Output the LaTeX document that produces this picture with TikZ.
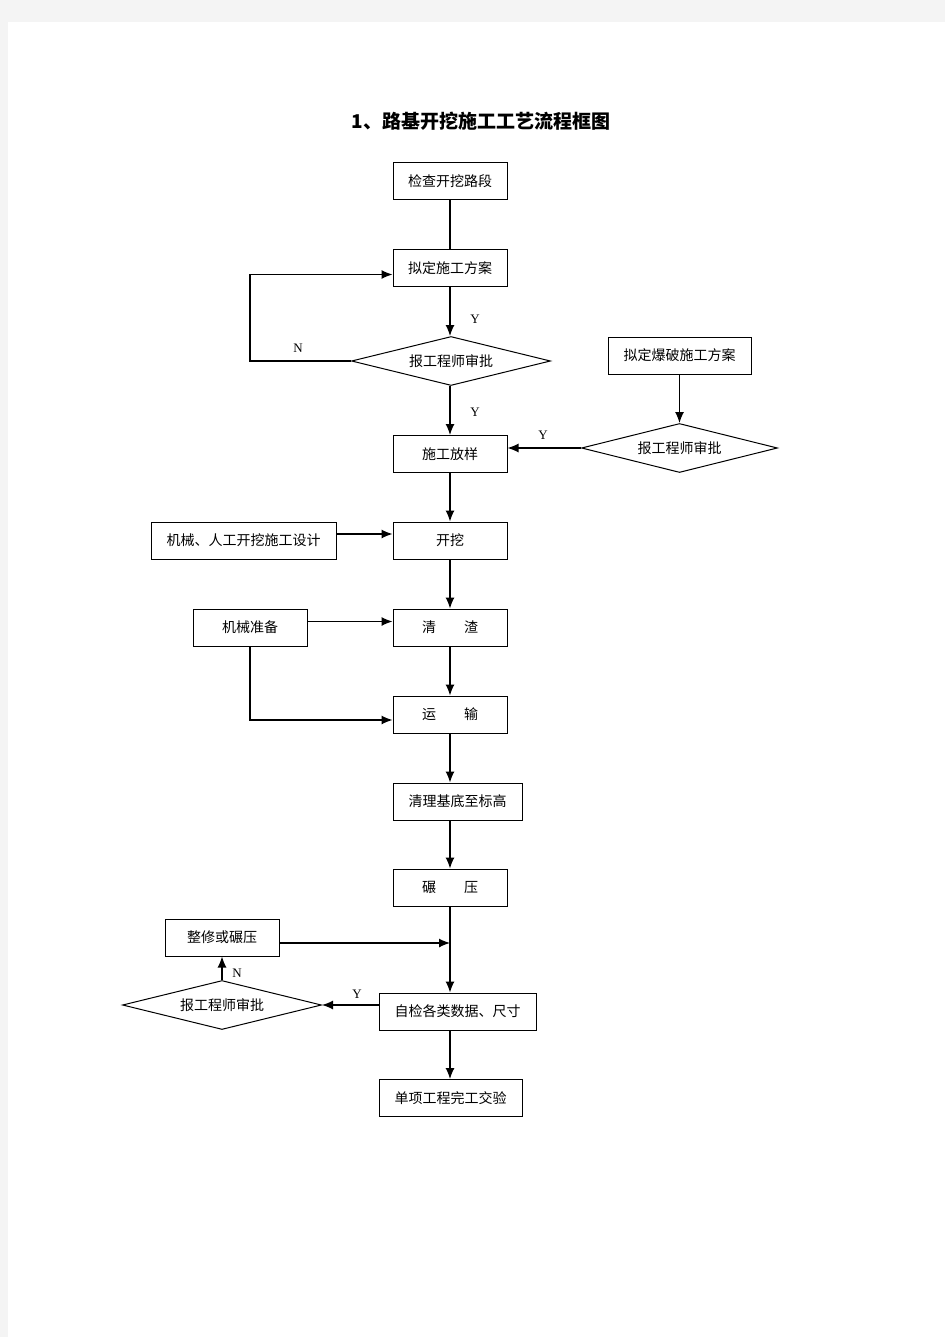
\documentclass[tikz,border=0pt]{standalone}
\usepackage{fontspec}
\setmainfont{Liberation Serif}
\newfontfamily\cjk{Noto Sans CJK SC}
\usetikzlibrary{shapes.geometric,arrows.meta}
\definecolor{pagegray}{HTML}{F4F4F4}

\begin{document}
\begin{tikzpicture}[x=1pt,y=-1pt]
        \tikzset{stepbox/.style={draw,line width=1pt,minimum width=114pt,minimum height=37pt,
                inner sep=0pt,font=\cjk\fontsize{14pt}{16pt}\selectfont},
            check/.style={draw,diamond,aspect=4.06,line width=1pt,minimum width=199pt,minimum height=49pt,
                inner sep=0pt,font=\cjk\fontsize{14pt}{16pt}\selectfont},
            yn/.style={font=\fontsize{13pt}{15pt}\selectfont},
            flow/.style={line width=1.2pt,-{Latex[length=11pt,width=9pt]}},
            link/.style={line width=1.2pt}}
        % page
        \fill[pagegray] (0,0) rectangle (945,1337);
        \fill[white] (8,22) rectangle (945,1337);
        \useasboundingbox (0,0) rectangle (945,1337);
        \node[font=\cjk\bfseries\fontsize{19pt}{21pt}\selectfont] (title) at (481,121) {1、路基开挖施工工艺流程框图};
        % main column
        \node[stepbox] (check) at (450,181.5) {检查开挖路段};
        \node[stepbox] (plan) at (450,268.5) {拟定施工方案};
        \node[check] (ok1) at (451,361) {报工程师审批};
        \node[stepbox] (stake) at (450,454) {施工放样};
        \node[stepbox] (dig) at (450,540.5) {开挖};
        \node[stepbox] (clear) at (450,627.5) {清\hspace{2em}渣};
        \node[stepbox] (haul) at (450,714.5) {运\hspace{2em}输};
        \node[stepbox,minimum width=129pt] (base) at (457.5,801.5) {清理基底至标高};
        \node[stepbox] (roll) at (450,887.5) {碾\hspace{2em}压};
        \node[stepbox,minimum width=157pt] (self) at (457.5,1011.5) {自检各类数据、尺寸};
        \node[stepbox,minimum width=143pt] (done) at (450.5,1098) {单项工程完工交验};
        % side boxes
        \node[stepbox,minimum width=143pt] (blast) at (679.5,355.5) {拟定爆破施工方案};
        \node[check,minimum width=196pt] (ok2) at (679.5,448) {报工程师审批};
        \node[stepbox,minimum width=185pt] (design) at (243.5,540.5) {机械、人工开挖施工设计};
        \node[stepbox] (machine) at (250,627.5) {机械准备};
        \node[stepbox] (fix) at (222,937.5) {整修或碾压};
        \node[check] (ok3) at (222,1005) {报工程师审批};
        % connectors
        \draw[link] (check) -- (plan);
        \draw[flow] (plan) -- (plan.south |- ok1.north);
        \draw[flow] (ok1.west) -- ++(-101,0) |- ([yshift=-6pt]plan.west);
        \draw[flow] (plan.south |- ok1.south) -- (stake);
        \draw[flow] (blast) -- (ok2);
        \draw[flow] (ok2.west) -- (ok2.west -| stake.east);
        \draw[flow] (stake) -- (dig);
        \draw[flow] ([yshift=6.5pt]design.east) -- ([yshift=6.5pt]dig.west);
        \draw[flow] (dig) -- (clear);
        \draw[flow] ([yshift=6pt]machine.east) -- ([yshift=6pt]clear.west);
        \draw[flow] (machine.south) |- ([yshift=-5.5pt]haul.west);
        \draw[flow] (clear) -- (haul);
        \draw[flow] (haul.south) -- (haul.south |- base.north);
        \draw[flow] (haul.south |- base.south) -- (roll);
        \draw[flow] (roll.south) -- (roll.south |- self.north);
        \draw[flow] ([yshift=-5.5pt]fix.east) -- ([yshift=-5.5pt]fix.east -| roll.south);
        \draw[flow] ([yshift=6.5pt]self.west) -- (ok3.east);
        \draw[flow] (ok3.north) -- (fix.south);
        \draw[flow] (roll.south |- self.south) -- (roll.south |- done.north);
        % labels
        \node[yn] (y1) at (475,319) {Y};
        \node[yn] (n1) at (298,348) {N};
        \node[yn] (y2) at (475,412) {Y};
        \node[yn] (y3) at (543,435) {Y};
        \node[yn] (y4) at (357,994) {Y};
        \node[yn] (n2) at (237,973) {N};
    \end{tikzpicture}
\end{document}
